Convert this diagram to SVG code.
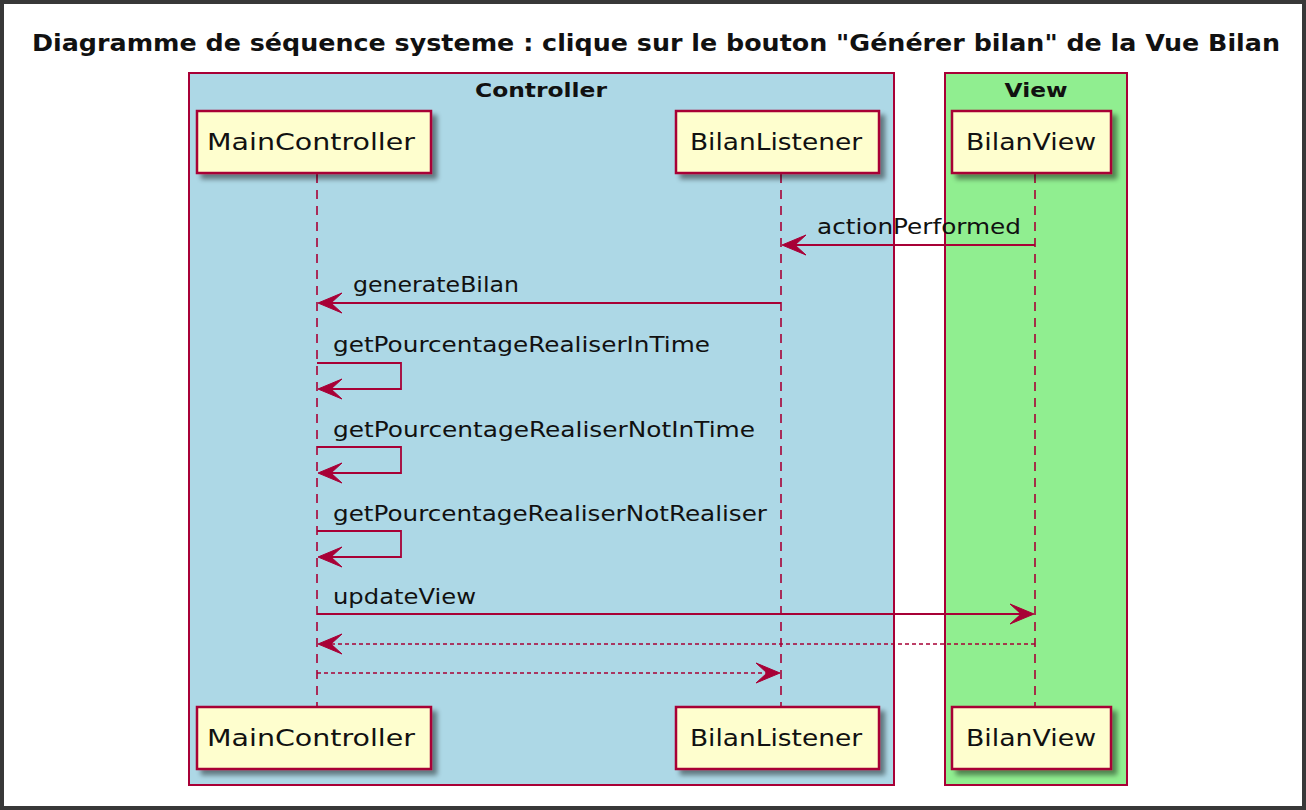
<svg xmlns="http://www.w3.org/2000/svg" width="1306" height="810" viewBox="0 0 1306 810">
<style>
.part{fill:#FEFECE;stroke:#A80036;stroke-width:2.5}
.ptxt{font-family:"DejaVu Sans",sans-serif;font-size:23px;fill:#111;text-anchor:middle}
.mtxt{font-family:"DejaVu Sans",sans-serif;font-size:20.5px;fill:#111}
.btxt{font-family:"DejaVu Sans",sans-serif;font-size:20px;font-weight:bold;fill:#111;text-anchor:middle}
.life{stroke:#A80036;stroke-width:1.6;stroke-dasharray:9,7;fill:none}
.msg{stroke:#A80036;stroke-width:1.8;fill:none}
.ret{stroke:#A80036;stroke-width:1.6;stroke-dasharray:4,3;fill:none}
.ah{fill:#A80036;stroke:#A80036;stroke-width:1}
</style>
<defs>
<filter id="sh" x="-10%" y="-10%" width="130%" height="140%">
<feGaussianBlur in="SourceAlpha" stdDeviation="2.5"/>
<feOffset dx="5" dy="5" result="b"/>
<feComponentTransfer><feFuncA type="linear" slope="0.45"/></feComponentTransfer>
<feMerge><feMergeNode/><feMergeNode in="SourceGraphic"/></feMerge>
</filter>
<polygon id="al" points="0,0 24,-10 13,0 24,10"/>
<polygon id="ar" points="0,0 -24,-10 -13,0 -24,10"/>
</defs>
<rect x="0" y="0" width="1306" height="810" fill="#FFFFFF"/>
<rect x="2" y="2" width="1302" height="806" fill="none" stroke="#383838" stroke-width="4"/>
<text x="656" y="51" font-family="DejaVu Sans,sans-serif" font-size="23.5" font-weight="bold" fill="#111" text-anchor="middle" textLength="1248" lengthAdjust="spacingAndGlyphs">Diagramme de séquence systeme : clique sur le bouton "Générer bilan" de la Vue Bilan</text>

<g id="box-controller">
<rect x="189" y="73" width="705" height="712" fill="#ADD8E6" stroke="#A80036" stroke-width="2"/>
<text class="btxt" x="541" y="97" textLength="132" lengthAdjust="spacingAndGlyphs">Controller</text>
</g>
<g id="box-view">
<rect x="945" y="73" width="182" height="712" fill="#90EE90" stroke="#A80036" stroke-width="2"/>
<text class="btxt" x="1036" y="97" textLength="63" lengthAdjust="spacingAndGlyphs">View</text>
</g>

<g id="lifelines">
<line class="life" x1="317" y1="174" x2="317" y2="707"/>
<line class="life" x1="781" y1="174" x2="781" y2="707"/>
<line class="life" x1="1035" y1="174" x2="1035" y2="707"/>
</g>

<g id="MainController">
<rect class="part" x="197" y="111" width="234" height="62" filter="url(#sh)"/>
<text class="ptxt" x="311" y="150" textLength="208" lengthAdjust="spacingAndGlyphs">MainController</text>
<rect class="part" x="197" y="707" width="234" height="62" filter="url(#sh)"/>
<text class="ptxt" x="311" y="746" textLength="208" lengthAdjust="spacingAndGlyphs">MainController</text>
</g>
<g id="BilanListener">
<rect class="part" x="676" y="111" width="203" height="62" filter="url(#sh)"/>
<text class="ptxt" x="776" y="150" textLength="172" lengthAdjust="spacingAndGlyphs">BilanListener</text>
<rect class="part" x="676" y="707" width="203" height="62" filter="url(#sh)"/>
<text class="ptxt" x="776" y="746" textLength="172" lengthAdjust="spacingAndGlyphs">BilanListener</text>
</g>
<g id="BilanView">
<rect class="part" x="952" y="111" width="159" height="62" filter="url(#sh)"/>
<text class="ptxt" x="1031" y="150" textLength="130" lengthAdjust="spacingAndGlyphs">BilanView</text>
<rect class="part" x="952" y="707" width="159" height="62" filter="url(#sh)"/>
<text class="ptxt" x="1031" y="746" textLength="130" lengthAdjust="spacingAndGlyphs">BilanView</text>
</g>

<g id="connectors">
<line class="msg" x1="1035" y1="245" x2="784" y2="245"/>
<use href="#al" class="ah" x="782" y="245"/>
<text class="mtxt" x="817" y="234" textLength="204" lengthAdjust="spacingAndGlyphs">actionPerformed</text>

<line class="msg" x1="781" y1="303" x2="320" y2="303"/>
<use href="#al" class="ah" x="318" y="303"/>
<text class="mtxt" x="353" y="292" textLength="166" lengthAdjust="spacingAndGlyphs">generateBilan</text>

<polyline class="msg" points="317,363 401,363 401,389 320,389"/>
<use href="#al" class="ah" x="318" y="389"/>
<text class="mtxt" x="333" y="352" textLength="377" lengthAdjust="spacingAndGlyphs">getPourcentageRealiserInTime</text>

<polyline class="msg" points="317,447 401,447 401,473 320,473"/>
<use href="#al" class="ah" x="318" y="473"/>
<text class="mtxt" x="333" y="437" textLength="422" lengthAdjust="spacingAndGlyphs">getPourcentageRealiserNotInTime</text>

<polyline class="msg" points="317,531 401,531 401,557 320,557"/>
<use href="#al" class="ah" x="318" y="557"/>
<text class="mtxt" x="333" y="521" textLength="434" lengthAdjust="spacingAndGlyphs">getPourcentageRealiserNotRealiser</text>

<line class="msg" x1="317" y1="614" x2="1032" y2="614"/>
<use href="#ar" class="ah" x="1034" y="614"/>
<text class="mtxt" x="333" y="604" textLength="143" lengthAdjust="spacingAndGlyphs">updateView</text>

<line class="ret" x1="1035" y1="644" x2="320" y2="644"/>
<use href="#al" class="ah" x="318" y="644"/>

<line class="ret" x1="317" y1="673" x2="778" y2="673"/>
<use href="#ar" class="ah" x="780" y="673"/>
</g>
</svg>
